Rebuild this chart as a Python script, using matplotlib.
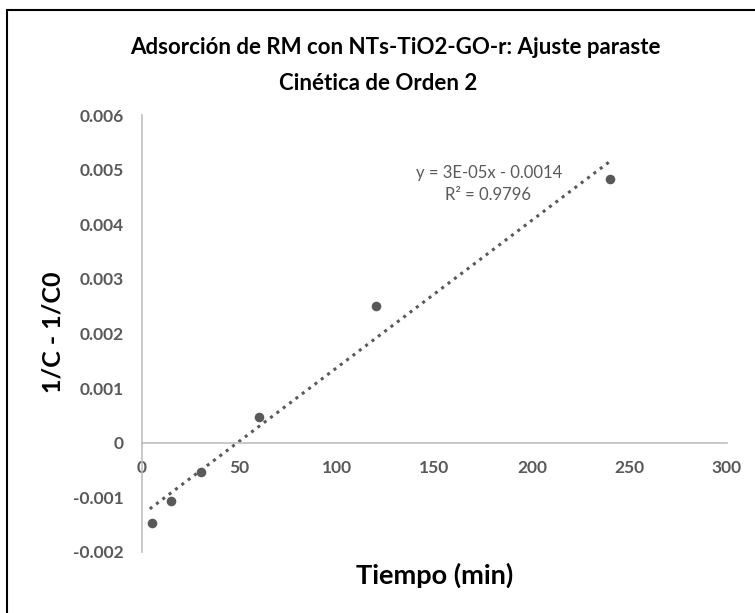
import numpy as np
import matplotlib
matplotlib.use("Agg")
import matplotlib.pyplot as plt
from matplotlib.patches import Rectangle

# ---- data ----
tiempo = [5, 15, 30, 60, 120, 240]
inv_c = [-0.00146, -0.00106, -0.00053, 0.00047, 0.00251, 0.00483]
x_ticks = [0, 50, 100, 150, 200, 250, 300]
x_tick_labels = ["0", "50", "100", "150", "200", "250", "300"]
y_ticks = [-0.002, -0.001, 0, 0.001, 0.002, 0.003, 0.004, 0.005, 0.006]
y_tick_labels = ["-0.002", "-0.001", "0", "0.001", "0.002", "0.003", "0.004", "0.005", "0.006"]
title_line1 = "Adsorción de RM con NTs-TiO2-GO-r: Ajuste paraste"
title_line2 = "Cinética de Orden 2"
x_title = "Tiempo (min)"
y_title = "1/C - 1/C0"
eq_line1 = "y = 3E-05x - 0.0014"
eq_line2 = "R² = 0.9796"

plt.rcParams['font.family'] = ['Lato', 'DejaVu Sans']
W, H = 755, 613
fig = plt.figure(figsize=(W / 100, H / 100), dpi=100)

# chart border (right and bottom edges fall outside the image)
fig.patches.append(Rectangle((7 / W, -0.05), 1.2, 1 - 10 / H + 0.05, transform=fig.transFigure,
                             fill=False, edgecolor="black", linewidth=1.5))

ax = fig.add_axes([142 / W, 1 - 552 / H, (727 - 142) / W, (552 - 115) / H])
ax.set_xlim(0, 300)
ax.set_ylim(-0.002, 0.006)

grey = "#595959"
axis_grey = "#bfbfbf"

for s in ["top", "right"]:
    ax.spines[s].set_visible(False)
ax.spines["left"].set_color(axis_grey)
ax.spines["left"].set_linewidth(1.2)
ax.spines["bottom"].set_position(("data", 0))
ax.spines["bottom"].set_color(axis_grey)
ax.spines["bottom"].set_linewidth(1.2)

ax.set_xticks(x_ticks)
ax.set_xticklabels(x_tick_labels)
ax.set_yticks(y_ticks)
ax.set_yticklabels(y_tick_labels)
ax.tick_params(length=0, colors=grey, labelsize=12.5)
ax.tick_params(axis="x", pad=12.5)
ax.tick_params(axis="y", pad=13)
for lab in ax.get_xticklabels() + ax.get_yticklabels():
    lab.set_fontweight("bold")
    lab.set_color(grey)

# trendline from least squares fit
coef = np.polyfit(tiempo, inv_c, 1)
xs = np.array([min(tiempo) - 1, max(tiempo)])
ax.plot(xs, np.polyval(coef, xs), linestyle=(0, (1, 1.6)), color=grey, linewidth=2.2, zorder=2)

ax.scatter(tiempo, inv_c, s=48, color=grey, zorder=3, linewidths=0)

fig.text(489 / W, 1 - 173 / H, eq_line1, ha="center", va="center", fontsize=12, color=grey)
fig.text(488 / W, 1 - 195 / H, eq_line2, ha="center", va="center", fontsize=12, color=grey)

fig.text(395 / W, 1 - 47 / H, title_line1, ha="center", va="center", fontsize=16,
         fontweight="bold", color="black")
fig.text(378 / W, 1 - 83 / H, title_line2, ha="center", va="center", fontsize=16,
         fontweight="bold", color="black")

fig.text(53 / W, 1 - 332 / H, y_title, rotation=90, ha="center", va="center", fontsize=18,
         fontweight="bold", color="black")
fig.text((142 + 727) / 2 / W, 1 - 575 / H, x_title, ha="center", va="center", fontsize=19.5,
         fontweight="bold", color="black")

fig.savefig("out.png", dpi=100)
